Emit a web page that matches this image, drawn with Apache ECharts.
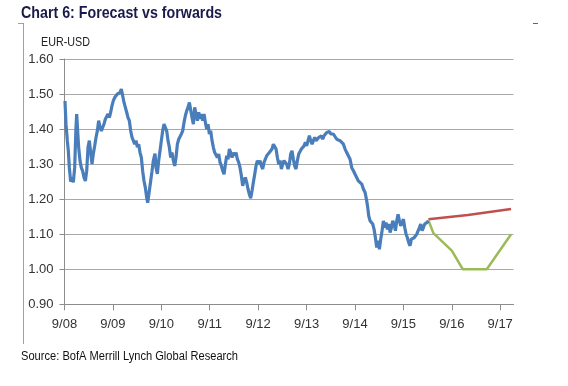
<!DOCTYPE html>
<html>
<head>
<meta charset="utf-8">
<script src="https://cdn.jsdelivr.net/npm/echarts@6/dist/echarts.min.js"></script>
<style>
html,body{margin:0;padding:0;background:#fff;}
#chart{width:568px;height:386px;}
</style>
</head>
<body>
<div id="chart"></div>
<script>
// x values are months since September 2008
var xTickLabels = ['9/08','9/09','9/10','9/11','9/12','9/13','9/14','9/15','9/16','9/17'];

var spotMonths = [
0.12,0.37,0.70,0.95,1.20,1.53,1.86,2.19,2.52,2.85,3.02,3.26,3.51,3.84,4.17,4.51,4.83,5.17,5.50,5.83,6.16,6.49,6.82,7.15,7.48,7.81,8.14,8.47,8.80,9.13,9.46,9.79,10.12,10.45,10.78,11.11,11.45,11.78,12.11,12.44,12.77,13.10,13.43,13.76,14.09,14.42,14.75,15.08,15.41,15.74,16.07,16.41,16.74,17.07,17.40,17.73,18.06,18.39,18.72,19.05,19.38,19.71,20.04,20.37,20.62,21.03,21.36,21.69,22.02,22.44,
22.69,23.02,23.35,23.68,24.01,24.34,24.67,25.00,25.33,25.66,25.99,26.32,26.65,26.99,27.32,27.65,27.98,28.31,28.64,28.97,29.30,29.63,29.96,30.29,30.62,30.96,31.28,31.61,31.94,32.27,32.60,32.94,33.27,33.60,33.93,34.26,34.59,34.92,35.25,35.58,35.91,36.24,36.57,36.90,37.23,37.56,37.89,38.22,38.56,38.89,39.22,39.55,39.88,40.21,40.54,40.87,41.20,41.53,41.86,42.19,42.52,42.85,43.18,43.51,43.84,44.17,
44.50,44.83,45.16,45.49,45.82,46.15,46.49,46.82,47.15,47.48,47.81,48.14,48.47,48.80,49.13,49.46,49.79,50.12,50.45,50.78,51.11,51.44,51.77,52.10,52.44,52.77,53.10,53.43,53.76,54.09,54.42,54.75,55.08,55.41,55.74,56.07,56.40,56.73,57.06,57.39,57.72,58.06,58.39,58.72,59.05,59.38,59.71,60.04,60.37,60.70,61.03,61.36,61.69,62.02,62.35,62.68,63.01,63.34,63.68,64.01,64.34,64.67,65.00,65.33,65.66,65.99,66.32,66.65,
67.07,67.48,67.90,68.31,68.72,69.14,69.55,69.96,70.38,70.79,71.20,71.62,72.03,72.44,72.85,73.27,73.68,74.09,74.51,74.92,75.17,75.42,75.75,76.08,76.41,76.74,77.07,77.40,77.73,78.06,78.39,78.72,79.05,79.38,79.71,80.05,80.38,80.71,81.04,81.37,81.70,82.03,82.36,82.69,83.02,83.35,83.68,84.01,84.34,84.67,85.00,85.33,85.66,85.99,86.33,86.66,86.99,87.32,87.65,87.98,88.31,88.64,88.97,89.30,89.80,90.21
];
var spotValues = [
1.48,1.414,1.367,1.338,1.29,1.25,1.262,1.248,1.29,1.405,1.443,1.395,1.348,1.31,1.29,1.28,1.262,1.252,1.28,1.348,1.367,1.333,1.30,1.33,1.352,1.376,1.395,1.424,1.405,1.395,1.405,1.414,1.428,1.424,1.443,1.433,1.448,1.467,1.481,1.49,1.486,1.50,1.495,1.505,1.514,1.495,1.476,1.462,1.448,1.433,1.424,1.395,1.376,1.367,1.357,1.367,1.348,1.357,1.333,1.319,1.28,1.252,1.233,1.205,1.19,1.224,1.252,1.28,1.31,1.33,
1.29,1.272,1.31,1.338,1.367,1.395,1.414,1.419,1.395,1.367,1.348,1.319,1.333,1.31,1.295,1.319,1.357,1.371,1.367,1.386,1.395,1.419,1.438,1.452,1.462,1.476,1.481,1.433,1.414,1.462,1.443,1.424,1.448,1.429,1.443,1.424,1.443,1.419,1.40,1.414,1.386,1.395,1.367,1.348,1.333,1.338,1.319,1.329,1.305,1.295,1.281,1.271,1.30,1.324,1.314,1.343,1.333,1.319,1.333,1.324,1.333,1.314,1.305,1.29,1.267,1.238,
1.252,1.262,1.248,1.229,1.214,1.203,1.224,1.248,1.271,1.295,1.31,1.30,1.31,1.295,1.286,1.305,1.314,1.324,1.319,1.333,1.329,1.343,1.357,1.362,1.343,1.319,1.30,1.31,1.286,1.30,1.31,1.314,1.30,1.286,1.30,1.329,1.338,1.314,1.295,1.286,1.31,1.329,1.333,1.343,1.338,1.352,1.362,1.352,1.367,1.381,1.367,1.357,1.367,1.376,1.367,1.371,1.376,1.371,1.381,1.371,1.381,1.376,1.39,1.386,1.393,1.386,1.39,1.386,
1.386,1.371,1.376,1.367,1.362,1.357,1.343,1.333,1.329,1.314,1.29,1.281,1.271,1.267,1.252,1.248,1.243,1.229,1.219,1.195,1.176,1.152,1.138,1.143,1.129,1.114,1.09,1.062,1.081,1.057,1.086,1.11,1.138,1.119,1.133,1.114,1.129,1.105,1.119,1.138,1.129,1.11,1.138,1.157,1.138,1.124,1.133,1.143,1.119,1.10,1.09,1.076,1.067,1.086,1.081,1.09,1.086,1.10,1.095,1.119,1.129,1.11,1.119,1.129,1.133,1.138
];

var forwardMonths = [90.21, 100.0, 110.7];
var forwardValues = [1.143, 1.155, 1.172];

var forecastMonths = [90.21, 91.44, 96.0, 98.73, 104.68, 110.7];
var forecastValues = [1.14, 1.103, 1.053, 1.0, 1.0, 1.10];

var titleText = 'Chart 6: Forecast vs forwards';
var unitText = 'EUR-USD';
var sourceText = 'Source: BofA Merrill Lynch Global Research';

function zip(xs, ys) { return xs.map(function (x, i) { return [x, ys[i]]; }); }

// horizontal squeeze so a standard font mimics the narrow original typeface
var mctx = document.createElement('canvas').getContext('2d');
function squeeze(text, font, targetWidth) {
  mctx.font = font;
  var w = mctx.measureText(text).width;
  return w > 0 ? targetWidth / w : 1;
}
var titleFont = 'bold 17px "Liberation Sans", Arial, sans-serif';
var unitFont = '13px "Liberation Sans", Arial, sans-serif';
var sourceFont = '12.5px "Liberation Sans", Arial, sans-serif';

var chart = echarts.init(document.getElementById('chart'), null, {renderer: 'canvas'});
var axisFont = '"Liberation Sans", Arial, sans-serif';
var option = {
  animation: false,
  backgroundColor: '#ffffff',
  grid: {left: 64.5, right: 54.5, top: 59, bottom: 81.7, containLabel: false},
  xAxis: {
    type: 'value', min: 0, max: 111.3, interval: 12,
    axisLine: {show: true, lineStyle: {color: '#8c8c8c', width: 1}},
    axisTick: {show: true, length: 6, inside: false, lineStyle: {color: '#8c8c8c'}},
    splitLine: {show: false},
    axisLabel: {
      margin: 14, color: '#333333', fontSize: 13, fontFamily: axisFont,
      showMaxLabel: false,
      formatter: function (v) { var i = Math.round(v / 12); return xTickLabels[i] || ''; }
    }
  },
  yAxis: {
    type: 'value', min: 0.9, max: 1.6, interval: 0.1,
    axisLine: {show: true, lineStyle: {color: '#8c8c8c', width: 1}},
    axisTick: {show: true, length: 5, inside: false, lineStyle: {color: '#8c8c8c'}},
    splitLine: {show: true, lineStyle: {color: '#a8a8a8', width: 1}},
    axisLabel: {
      margin: 11, color: '#333333', fontSize: 13, fontFamily: axisFont,
      formatter: function (v) { return v.toFixed(2); }
    }
  },
  series: [
    {type: 'line', name: 'EUR-USD', data: zip(spotMonths, spotValues), showSymbol: false, symbol: 'none',
     lineStyle: {color: '#4a7ebb', width: 3.2}, z: 3},
    {type: 'line', name: 'Forwards', data: zip(forwardMonths, forwardValues), showSymbol: false, symbol: 'none',
     lineStyle: {color: '#c0504d', width: 2.5}, z: 2},
    {type: 'line', name: 'Forecast', data: zip(forecastMonths, forecastValues), showSymbol: false, symbol: 'none',
     lineStyle: {color: '#9bbb59', width: 2.5}, z: 2}
  ],
  graphic: [
    {type: 'text', x: 21, y: 5, scaleX: squeeze(titleText, titleFont, 201),
     style: {text: titleText, fill: '#1a1a4a', font: titleFont}},
    {type: 'text', x: 41, y: 36, scaleX: squeeze(unitText, unitFont, 49),
     style: {text: unitText, fill: '#222222', font: unitFont}},
    {type: 'text', x: 21, y: 350, scaleX: squeeze(sourceText, sourceFont, 217),
     style: {text: sourceText, fill: '#111111', font: sourceFont}},
    {type: 'line', shape: {x1: 23.5, y1: 23, x2: 23.5, y2: 344}, style: {stroke: '#a0a0a0', lineWidth: 1}},
    {type: 'line', shape: {x1: 18, y1: 23.5, x2: 23.5, y2: 23.5}, style: {stroke: '#a0a0a0', lineWidth: 1}},
    {type: 'line', shape: {x1: 533, y1: 23.5, x2: 538, y2: 23.5}, style: {stroke: '#4a6a9a', lineWidth: 1}}
  ]
};
chart.setOption(option);
</script>
</body>
</html>
